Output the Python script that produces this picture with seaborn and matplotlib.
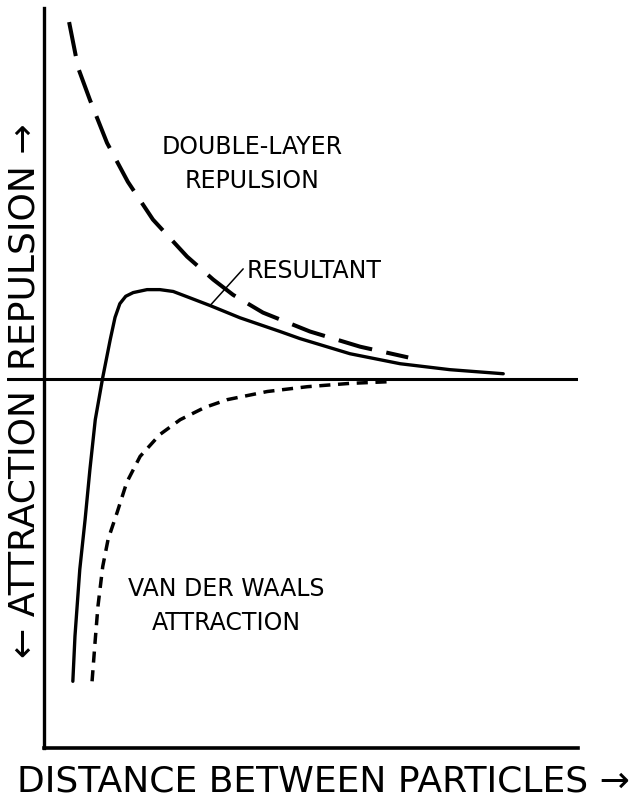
import matplotlib
matplotlib.use("Agg")
import matplotlib.pyplot as plt
import seaborn as sns

# ---- data (arbitrary units) ----
dl_x = [0.47, 0.64, 0.86, 1.18, 1.57, 2.04, 2.68, 3.17, 3.54, 4.10, 4.98, 5.92, 6.82]
dl_y = [9.62, 8.38, 7.52, 6.36, 5.31, 4.29, 3.29, 2.67, 2.26, 1.78, 1.27, 0.86, 0.57]

res_x = [0.54, 0.58, 0.67, 0.77, 0.86, 0.96, 1.10, 1.24, 1.33, 1.42, 1.53, 1.67, 1.93, 2.17,
         2.42, 2.73, 3.11, 3.67, 4.42, 4.79, 5.73, 6.67, 7.60, 8.60]
res_y = [-8.17, -6.95, -5.15, -3.80, -2.45, -1.11, 0.03, 1.05, 1.65, 2.02, 2.22, 2.32, 2.40, 2.40,
         2.35, 2.18, 1.97, 1.64, 1.27, 1.08, 0.67, 0.40, 0.24, 0.13]

vdw_x = [0.90, 0.96, 1.01, 1.10, 1.20, 1.37, 1.55, 1.80, 2.17, 2.55, 3.01, 3.43, 4.18,
         4.93, 5.73, 6.54]
vdw_y = [-8.17, -7.04, -6.15, -5.07, -4.34, -3.61, -2.80, -2.10, -1.51, -1.11, -0.78,
         -0.57, -0.35, -0.22, -0.13, -0.08]

x_label = "DISTANCE BETWEEN PARTICLES \u2192"
y_label_up = "REPULSION \u2192"
y_label_down = "\u2190 ATTRACTION"
lbl_double = "DOUBLE-LAYER\nREPULSION"
lbl_result = "RESULTANT"
lbl_vdw = "VAN DER WAALS\nATTRACTION"

# ---- figure ----
sns.set_theme(style="white")
plt.rcParams["font.family"] = ["DejaVu Sans"]
plt.rcParams["text.color"] = "black"

W, H = 641, 802
fig = plt.figure(figsize=(W / 100, H / 100), dpi=100)
fig.patch.set_facecolor("white")

def fx(px):
    return px / W

def fy(py):
    return 1 - py / H

ax = fig.add_axes([fx(7), fy(748), (578 - 7) / W, (748 - 8) / H])
ax.set_facecolor("white")
ax.set_xlim(-0.693, 10)
ax.set_ylim(-9.97, 10)

for s in ["top", "right"]:
    ax.spines[s].set_visible(False)
ax.spines["left"].set_position(("data", 0))
ax.spines["left"].set_linewidth(2.4)
ax.spines["left"].set_color("black")
ax.spines["bottom"].set_bounds(0, 10)
ax.spines["bottom"].set_linewidth(2.6)
ax.spines["bottom"].set_color("black")
ax.set_xticks([])
ax.set_yticks([])

ax.axhline(0, color="black", lw=2.2, zorder=1)

sns.lineplot(x=dl_x, y=dl_y, ax=ax, color="black", linewidth=2.9,
             linestyle=(0, (8.6, 3.6)), estimator=None, sort=False)
sns.lineplot(x=res_x, y=res_y, ax=ax, color="black", linewidth=2.4,
             estimator=None, sort=False)
sns.lineplot(x=vdw_x, y=vdw_y, ax=ax, color="black", linewidth=2.5,
             linestyle=(0, (3.2, 2.2)), estimator=None, sort=False)

# leader line for RESULTANT
ax.plot([3.11, 3.73], [1.97, 2.96], color="black", lw=1.1)

# in-plot labels
ax.text(fx(252), fy(164), lbl_double, transform=fig.transFigure, ha="center",
        va="center", fontsize=17, linespacing=1.55, color="black")
ax.text(fx(247), fy(271), lbl_result, transform=fig.transFigure, ha="left",
        va="center", fontsize=17, color="black")
ax.text(fx(226), fy(606), lbl_vdw, transform=fig.transFigure, ha="center",
        va="center", fontsize=17, linespacing=1.55, color="black")

# axis labels
fig.text(fx(323), fy(782), x_label, ha="center", va="center", fontsize=26,
         color="black")
fig.text(fx(25), fy(370), y_label_up, ha="center", va="bottom", rotation=90,
         fontsize=26, color="black")
fig.text(fx(25), fy(390), y_label_down, ha="center", va="top", rotation=90,
         fontsize=26, color="black")

fig.savefig("out.png", dpi=100, facecolor="white")
